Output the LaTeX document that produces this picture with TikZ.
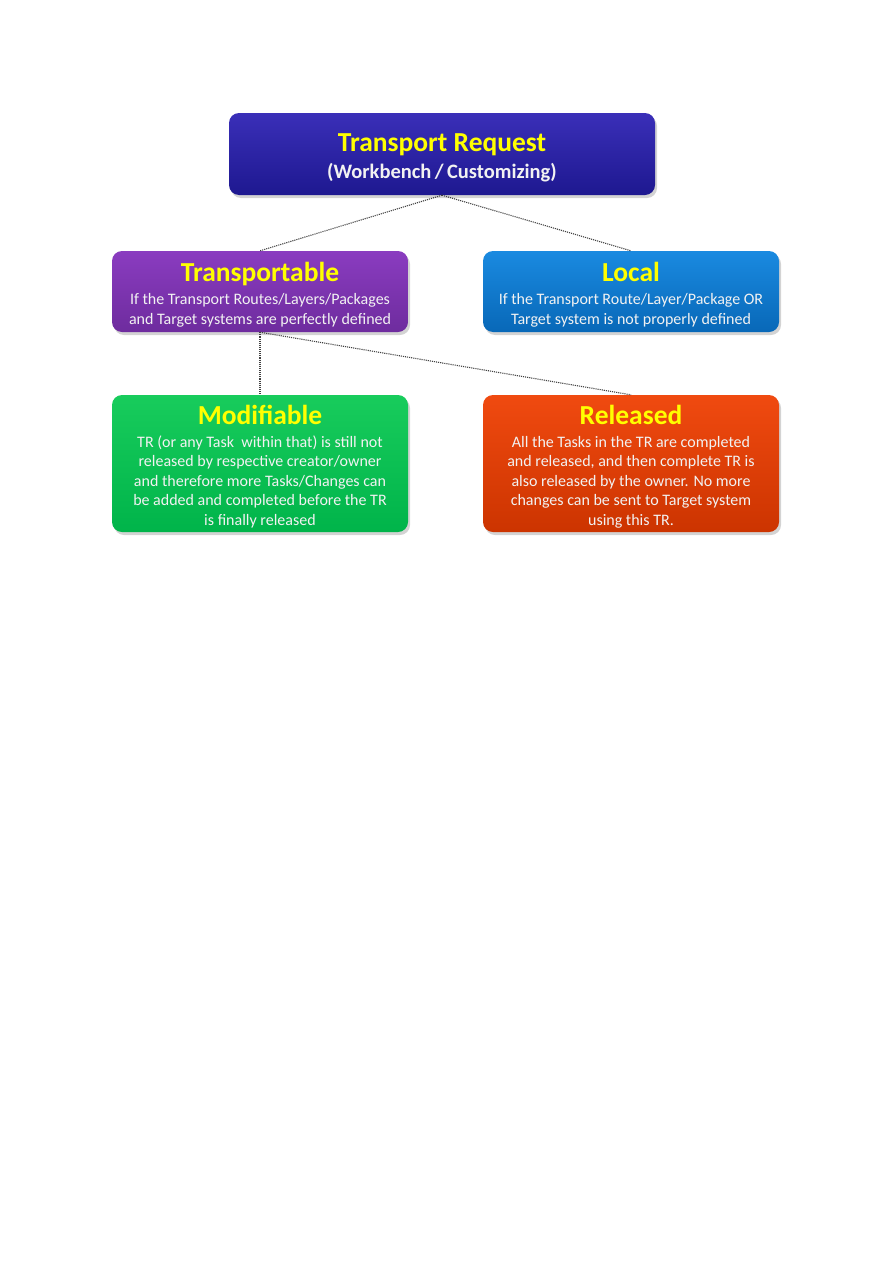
\documentclass[tikz,border=0pt]{standalone}
\usepackage{fontspec}
\setmainfont{Carlito}
\usetikzlibrary{shadows}
\definecolor{navyA}{HTML}{3A2FB8}
\definecolor{navyB}{HTML}{1E1890}
\definecolor{purpA}{HTML}{8A3CC0}
\definecolor{purpB}{HTML}{6E2C9E}
\definecolor{blueA}{HTML}{1A8AE0}
\definecolor{blueB}{HTML}{0868B8}
\definecolor{grnA}{HTML}{18CC5C}
\definecolor{grnB}{HTML}{00B44A}
\definecolor{redA}{HTML}{F04A10}
\definecolor{redB}{HTML}{CC3400}
\definecolor{ttl}{HTML}{FFFF00}
\definecolor{bodytext}{HTML}{F2F2F2}
\newcommand{\ttlbig}[1]{{\fontsize{27.5}{30}\selectfont\bfseries\color{ttl}#1}}
\newcommand{\ttlmid}[1]{{\fontsize{27.5}{30}\selectfont\bfseries\color{ttl}#1}}
\newcommand{\subbig}[1]{{\fontsize{20.5}{24}\selectfont\bfseries\color{bodytext}#1}}
\tikzset{
  box/.style={rounded corners=10pt, inner sep=0pt,
    drop shadow={opacity=0.35, shadow xshift=2pt, shadow yshift=-3pt}},
  txt/.style={align=center, inner sep=0pt, text=bodytext,
    font=\fontsize{16}{19.5}\selectfont},
  link/.style={draw=black!75, densely dotted, line width=1.1pt}
}
\begin{document}
\begin{tikzpicture}[x=1pt,y=-1pt]
\useasboundingbox (0,0) rectangle (893,1263);
\node[box, minimum width=426pt, minimum height=82pt, top color=navyA, bottom color=navyB] (tr) at (442,154) {};
\node[txt] (trt) at ([yshift=-4pt]tr.center)
  {\ttlbig{Transport Request}\\[6pt]\subbig{(Workbench\,/\,Customizing)}};
\node[box, minimum width=296pt, minimum height=81pt, top color=purpA, bottom color=purpB] (tp) at (260,291.5) {};
\node[txt] (tpt) at ([yshift=-3pt]tp.center)
  {\ttlmid{Transportable}\\[4pt]If the Transport Routes/Layers/Packages\\and Target systems are perfectly defined};
\node[box, minimum width=296pt, minimum height=81pt, top color=blueA, bottom color=blueB] (lc) at (631,291.5) {};
\node[txt] (lct) at ([yshift=-3pt]lc.center)
  {\ttlmid{Local}\\[4pt]If the Transport Route/Layer/Package OR\\Target system is not properly defined};
\node[box, minimum width=296pt, minimum height=137pt, top color=grnA, bottom color=grnB] (md) at (260,463.5) {};
\node[txt] (mdt) at ([yshift=-3pt]md.center)
  {\ttlmid{Modifiable}\\[3pt]TR (or any Task\ \ within that) is still not\\released by respective creator/owner\\and therefore more Tasks/Changes can\\be added and completed before the TR\\is finally released};
\node[box, minimum width=296pt, minimum height=137pt, top color=redA, bottom color=redB] (rl) at (631,463.5) {};
\node[txt] (rlt) at ([yshift=-3pt]rl.center)
  {\ttlmid{Released}\\[3pt]All the Tasks in the TR are completed\\and released, and then complete TR is\\also released by the owner. No more\\changes can be sent to Target system\\using this TR.};
\draw[link] (tr.south) -- (tp.north);
\draw[link] (tr.south) -- (lc.north);
\draw[link] (tp.south) -- (md.north);
\draw[link] (tp.south) -- (rl.north);
\end{tikzpicture}
\end{document}
